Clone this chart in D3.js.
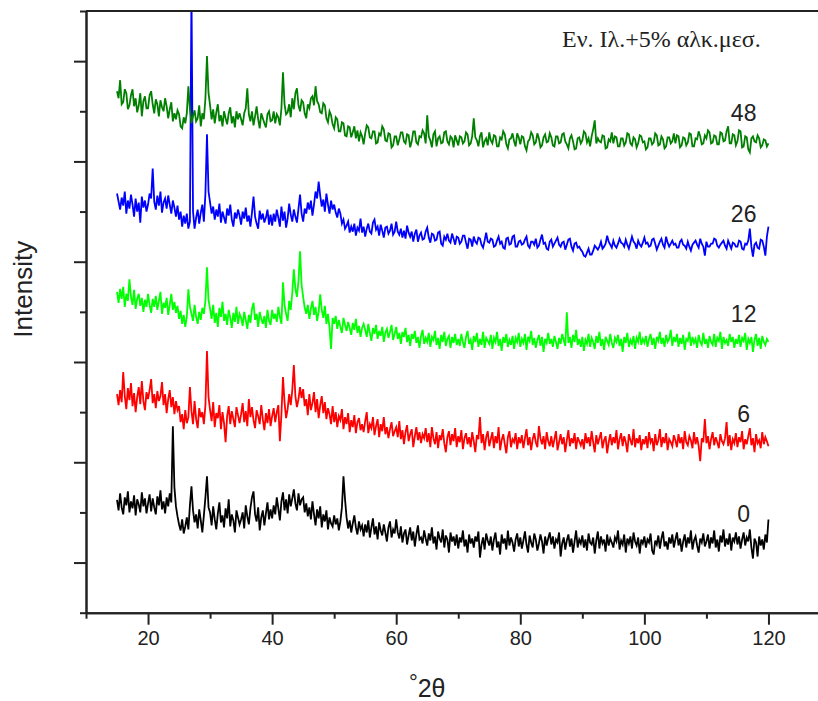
<!DOCTYPE html>
<html>
<head>
<meta charset="utf-8">
<script src="https://cdn.jsdelivr.net/npm/d3@7"></script>
<style>
  html, body { margin: 0; padding: 0; background: #fff; }
  svg { display: block; }
</style>
</head>
<body>
<svg id="chart" width="818" height="701"></svg>
<script>
// XRD scans, 15–120 °2θ, one reading every 0.25°
const scanStart = 15;
const scanStep = 0.25;
const scanPoints = 421;

// sample labels (hours), drawn bottom to top
const samples = ["0", "6", "12", "26", "48"];
const colors = ["#000000", "#ff0000", "#00ff00", "#0000ff", "#008000"];
const offsets = [0, 200, 400, 600, 800];

// one row = 5°
const s0 = [
  225,204,238,210,196,230,214,242,200,222,208,234,194,226,216,200,240,212,228,198,
  218,236,202,228,210,196,232,214,244,206,222,198,230,212,238,220,372,250,212,192,
  176,164,186,158,172,190,166,214,252,204,180,196,168,206,184,160,194,230,272,210,
  200,174,212,186,166,198,220,180,194,170,208,188,226,172,196,184,160,204,190,176,
  186,200,168,214,192,176,208,230,242,196,182,210,164,190,204,174,198,220,186,206,
  188,214,196,230,208,184,222,240,204,226,198,236,212,228,246,218,204,238,214,226,
  230,200,218,192,210,186,222,196,174,206,188,212,170,196,182,204,166,190,178,172,
  194,176,188,164,182,210,272,226,190,168,184,160,178,194,170,156,182,166,174,152,
  176,160,184,150,170,188,156,172,146,180,164,154,176,160,142,170,182,150,166,158,
  186,160,148,172,140,158,166,136,154,170,144,162,132,156,174,146,150,138,164,148,
  134,158,144,170,138,152,126,162,148,140,166,130,154,146,120,160,142,152,134,156,
  128,150,140,164,132,146,120,156,138,148,130,152,142,162,110,136,150,126,158,144,
  134,152,124,146,160,130,142,116,156,138,148,126,164,134,150,140,122,146,158,132,
  150,128,144,162,136,120,154,140,130,158,146,124,138,156,142,118,152,134,148,160,
  136,152,128,146,140,160,112,138,150,126,144,156,132,148,120,142,164,130,146,138,
  154,130,146,124,158,140,136,150,118,144,162,128,152,138,146,122,156,134,148,140,
  130,150,142,164,126,144,136,156,120,148,138,152,128,160,142,134,150,118,146,138,
  152,130,146,140,158,124,116,144,136,154,128,148,162,132,142,126,150,138,156,130,
  146,160,134,148,122,142,156,130,150,138,164,126,144,152,134,120,148,140,158,132,
  142,156,128,150,138,164,130,146,122,154,140,166,132,148,136,158,124,150,142,160,
  136,152,128,146,160,134,150,142,166,130,108,148,140,112,152,134,146,126,156,140,
  186
];

const s6 = [
  236,214,244,220,280,232,206,248,224,258,212,238,200,230,250,216,262,222,204,240,
  226,244,266,218,236,208,242,222,232,260,214,236,198,226,244,210,230,196,222,204,
  212,180,196,166,204,178,190,250,202,176,222,186,168,208,190,200,176,214,322,230,
  204,182,220,170,198,188,214,166,200,178,140,192,212,176,202,186,170,210,194,178,
  196,218,180,202,172,226,190,210,184,168,204,192,176,214,186,164,198,178,206,172,
  192,208,180,200,214,142,196,270,220,188,206,236,214,244,294,232,210,226,250,228,
  246,212,226,194,236,204,218,240,200,226,188,214,232,198,220,186,208,196,176,212,
  180,200,170,192,184,206,166,190,176,198,160,184,170,194,158,180,188,164,176,160,
  182,200,158,176,168,190,154,172,186,150,176,162,190,156,170,148,166,180,152,162,
  170,150,182,146,164,136,160,174,142,156,166,130,152,170,144,160,138,156,148,168,
  140,158,130,170,148,136,160,128,154,144,166,138,120,150,162,134,156,142,168,130,
  152,140,164,126,148,158,136,150,130,160,142,120,154,146,190,138,156,124,150,162,
  132,146,160,128,152,138,170,124,144,156,136,118,150,162,130,146,140,158,126,150,
  138,154,128,148,166,134,150,124,146,158,140,130,172,148,136,152,126,160,142,132,
  152,130,146,162,124,140,156,136,150,120,144,164,132,148,138,158,126,150,142,134,
  146,126,158,138,150,132,162,140,120,154,136,148,160,128,144,152,118,140,156,134,
  150,138,164,126,146,158,132,152,140,120,156,144,134,166,130,148,138,154,124,146,
  136,152,128,160,140,148,122,156,134,144,166,130,150,138,158,124,146,140,132,154,
  144,130,156,138,150,126,162,140,134,152,144,128,160,136,150,132,102,148,140,186,
  138,152,126,146,160,134,150,140,128,156,142,136,148,180,132,154,124,146,138,158,
  130,150,140,162,126,146,136,152,168,134,148,120,156,138,144,128,160,136,150,142,
  132
];

const s12 = [
  240,218,246,226,250,210,236,222,265,230,214,244,206,226,236,212,228,200,224,210,
  236,214,198,226,210,232,204,222,240,196,218,208,228,194,214,236,204,220,198,212,
  186,202,176,194,170,190,245,210,196,182,214,190,176,200,184,208,196,222,289,224,
  206,186,214,178,198,170,208,190,220,182,196,174,204,188,168,198,180,210,176,196,
  188,172,200,184,166,194,178,206,218,184,196,170,200,186,176,192,168,204,182,174,
  204,186,196,180,210,190,176,259,214,196,182,222,204,238,285,246,230,262,321,254,
  230,208,196,214,186,206,222,194,210,182,200,235,204,188,212,176,196,168,126,188,
  176,192,166,184,170,158,188,174,162,180,168,154,178,164,186,158,172,150,168,176,
  164,150,176,158,142,168,156,174,146,162,152,170,140,158,166,148,160,174,144,156,
  170,146,158,136,160,150,168,140,154,132,156,146,162,138,150,128,152,164,136,148,
  140,158,130,150,144,162,134,148,126,154,140,160,132,146,152,128,150,138,156,134,
  146,132,156,140,128,150,162,136,144,124,152,140,158,130,146,134,160,128,148,142,
  136,154,126,148,140,160,132,146,122,150,138,156,130,144,134,152,126,148,140,158,
  130,146,138,156,124,150,142,162,134,148,128,144,154,132,150,120,146,138,158,136,
  146,130,152,140,126,148,136,156,144,132,199,138,150,128,154,140,164,134,146,130,
  150,122,144,136,156,130,148,140,126,152,138,160,132,146,124,150,142,134,156,138,
  128,148,140,154,132,146,120,150,138,158,130,144,136,152,126,148,140,160,134,146,
  138,152,130,146,156,134,148,126,150,142,160,136,148,130,154,140,146,164,132,150,
  140,156,130,148,136,154,124,146,142,160,132,150,138,146,128,154,140,134,158,136,
  146,128,152,140,134,156,130,148,142,160,126,150,138,144,132,156,140,150,128,146,
  136,154,130,148,142,158,124,146,138,150,120,144,156,132,148,126,152,140,134,146,
  140
];

const s26 = [
  236,220,204,228,212,240,196,222,206,234,214,190,226,200,218,178,230,208,222,200,
  214,236,226,286,220,204,232,212,240,198,218,226,206,232,214,196,222,208,190,212,
  184,200,170,192,176,196,166,180,640,200,166,188,204,176,198,214,180,236,354,240,
  218,196,210,184,204,190,216,178,200,188,176,206,192,214,184,170,198,186,204,192,
  174,200,186,208,180,192,170,198,230,190,176,166,202,184,196,178,188,204,174,194,
  172,196,180,204,188,170,210,182,200,168,186,216,194,180,204,190,178,206,234,196,
  180,206,196,218,204,222,192,214,240,226,260,232,210,224,200,236,214,196,222,204,
  214,198,188,206,196,176,184,166,172,180,158,170,160,176,152,168,162,186,158,170,
  150,166,176,160,156,178,184,164,170,152,174,162,148,168,170,156,162,176,154,160,
  180,160,154,166,148,162,146,172,158,150,160,140,156,164,140,152,158,144,146,160,
  168,148,138,156,154,142,144,158,160,136,132,150,144,156,142,138,156,146,134,150,
  148,136,140,152,152,138,126,146,144,130,150,140,136,148,146,134,128,142,158,140,
  138,146,144,130,132,142,150,136,140,128,126,146,148,134,136,150,152,130,130,140,
  142,134,136,144,150,132,128,140,140,134,146,128,132,144,154,136,138,126,124,140,
  144,130,136,142,148,134,130,138,140,124,134,144,146,130,122,136,138,128,130,124,
  120,112,110,118,126,114,114,122,132,128,124,130,140,126,130,136,152,140,134,128,
  142,132,128,136,146,138,136,130,144,134,126,138,150,140,136,126,142,134,130,138,
  148,136,138,130,132,144,146,136,124,132,140,146,134,128,150,138,130,136,142,134,
  136,128,128,140,144,134,132,126,140,130,122,134,138,142,134,128,146,136,130,112,
  140,130,130,136,136,146,144,132,128,134,138,142,132,126,142,134,126,138,136,130,
  130,142,140,126,124,136,134,142,166,130,110,134,138,128,126,144,142,130,112,150,
  170
];

const s48 = [
  240,226,262,214,218,244,236,204,212,232,244,210,226,198,212,236,190,220,230,206,
  206,232,240,214,196,224,214,190,222,208,200,226,210,186,204,218,180,196,184,202,
  194,170,166,188,176,196,250,204,176,190,202,180,186,212,170,196,184,226,310,236,
  212,184,204,176,198,214,180,192,170,200,186,174,196,208,176,190,168,200,184,196,
  184,172,196,206,246,194,180,200,172,190,210,184,166,196,186,176,168,194,200,180,
  182,200,176,194,188,172,206,278,214,194,198,214,188,226,204,236,246,212,200,222,
  218,196,186,214,206,226,230,212,250,220,214,198,196,216,212,186,178,200,192,174,
  166,188,184,160,160,178,176,152,150,170,168,148,158,170,146,162,140,158,150,134,
  156,172,168,148,146,160,160,136,138,156,152,170,164,142,140,156,154,128,132,150,
  150,132,144,158,158,140,136,154,152,128,140,160,160,138,134,150,148,162,156,136,
  192,150,142,128,154,160,130,146,150,136,138,158,160,140,134,150,146,128,152,142,
  132,150,148,136,140,158,154,132,136,150,186,148,142,130,150,158,128,140,146,132,
  158,142,136,152,150,130,130,148,144,160,154,134,126,144,146,156,140,130,156,148,
  134,150,148,130,122,140,144,158,152,134,138,156,146,128,132,148,154,138,140,156,
  148,132,130,150,150,136,138,154,156,140,134,126,146,152,140,124,126,146,148,136,
  142,160,156,138,146,130,150,164,182,136,146,140,138,152,150,126,128,144,140,158,
  136,150,148,130,130,146,146,132,138,156,154,136,132,148,144,128,136,152,150,138,
  140,124,128,146,146,134,138,156,152,132,134,150,144,126,130,148,148,136,140,156,
  136,152,150,128,132,148,146,132,138,156,154,130,130,146,144,160,150,134,136,152,
  146,162,158,136,138,152,150,134,134,158,156,140,142,160,170,136,136,154,152,132,
  140,162,160,128,130,150,148,124,118,146,150,140,138,152,146,128,132,144,142,130,
  136
];

const series = [s0, s6, s12, s26, s48];
series.forEach((s, k) => {
  if (s.length !== scanPoints) throw new Error(`series ${samples[k]} has ${s.length} points`);
});

// axis ticks
const xMajor = [20, 40, 60, 80, 100, 120];
const xMinor = [10, 30, 50, 70, 90, 110];
const yMajor = [100, 300, 500, 700, 900, 1100];
const yMinor = [0, 200, 400, 600, 800, 1000, 1200];

const title = "Εν. Ιλ.+5% αλκ.μεσ.";

const svg = d3.select("#chart");
const x = d3.scaleLinear().domain([10, 130]).range([86, 830.5]);
const y = d3.scaleLinear().domain([0, 1200]).range([612.7, 11]);
const axisColor = "#222";

svg.append("defs").append("clipPath").attr("id", "plot")
  .append("rect")
  .attr("x", x(10)).attr("y", y(1200))
  .attr("width", 818 - x(10)).attr("height", y(0) - y(1200));

// traces
const plot = svg.append("g").attr("clip-path", "url(#plot)");
series.forEach((vals, k) => {
  const line = d3.line()
    .x((d, i) => x(scanStart + scanStep * i))
    .y(d => y(d + offsets[k]));
  plot.append("path")
    .datum(vals)
    .attr("fill", "none")
    .attr("stroke", colors[k])
    .attr("stroke-width", 1.8)
    .attr("stroke-linejoin", "miter")
    .attr("d", line);
});

// axes
function styleAxis(g) {
  g.selectAll("path.domain").attr("stroke", axisColor).attr("stroke-width", 2);
  g.selectAll(".tick line").attr("stroke", axisColor).attr("stroke-width", 2);
}

const gxMinor = svg.append("g").attr("transform", `translate(0,${y(0)})`)
  .call(d3.axisBottom(x).tickValues(xMinor).tickSize(6).tickSizeOuter(0).tickFormat(""));
styleAxis(gxMinor);
const gx = svg.append("g").attr("transform", `translate(0,${y(0)})`)
  .call(d3.axisBottom(x).tickValues(xMajor).tickSize(12).tickSizeOuter(0).tickPadding(6));
styleAxis(gx);
gx.selectAll(".tick text")
  .attr("fill", "#222")
  .style("font-family", "'Liberation Sans', Arial, sans-serif")
  .style("font-size", "20px");

const gyMinor = svg.append("g").attr("transform", `translate(${x(10)},0)`)
  .call(d3.axisLeft(y).tickValues(yMinor).tickSize(6).tickSizeOuter(0).tickFormat(""));
styleAxis(gyMinor);
const gy = svg.append("g").attr("transform", `translate(${x(10)},0)`)
  .call(d3.axisLeft(y).tickValues(yMajor).tickSize(12).tickSizeOuter(0).tickFormat(""));
styleAxis(gy);

// top frame
svg.append("line")
  .attr("x1", x(10)).attr("x2", 818)
  .attr("y1", y(1200)).attr("y2", y(1200))
  .attr("stroke", axisColor).attr("stroke-width", 2);

// axis titles
const xt = svg.append("text")
  .attr("x", x(65)).attr("y", 697)
  .attr("text-anchor", "middle")
  .attr("fill", "#222")
  .style("font-family", "'Liberation Sans', Arial, sans-serif")
  .style("font-size", "25px");
xt.append("tspan").attr("dy", -7).style("font-size", "22px").text("°");
xt.append("tspan").attr("dy", 7).text("2θ");

svg.append("text")
  .attr("transform", `translate(32,${y(645)}) rotate(-90)`)
  .attr("text-anchor", "middle")
  .attr("fill", "#222")
  .style("font-family", "'Liberation Sans', Arial, sans-serif")
  .style("font-size", "26px")
  .text("Intensity");

// sample labels
samples.forEach((s, k) => {
  svg.append("text")
    .attr("x", x(116)).attr("y", y(offsets[k] + 180))
    .attr("text-anchor", "middle")
    .attr("fill", "#222")
    .style("font-family", "'Liberation Sans', Arial, sans-serif")
    .style("font-size", "23px")
    .text(s);
});

// sample description
svg.append("text")
  .attr("x", 562).attr("y", 47)
  .attr("fill", "#222")
  .style("font-family", "'Liberation Serif', 'Times New Roman', serif")
  .style("font-size", "24px")
  .text(title);
</script>
</body>
</html>
